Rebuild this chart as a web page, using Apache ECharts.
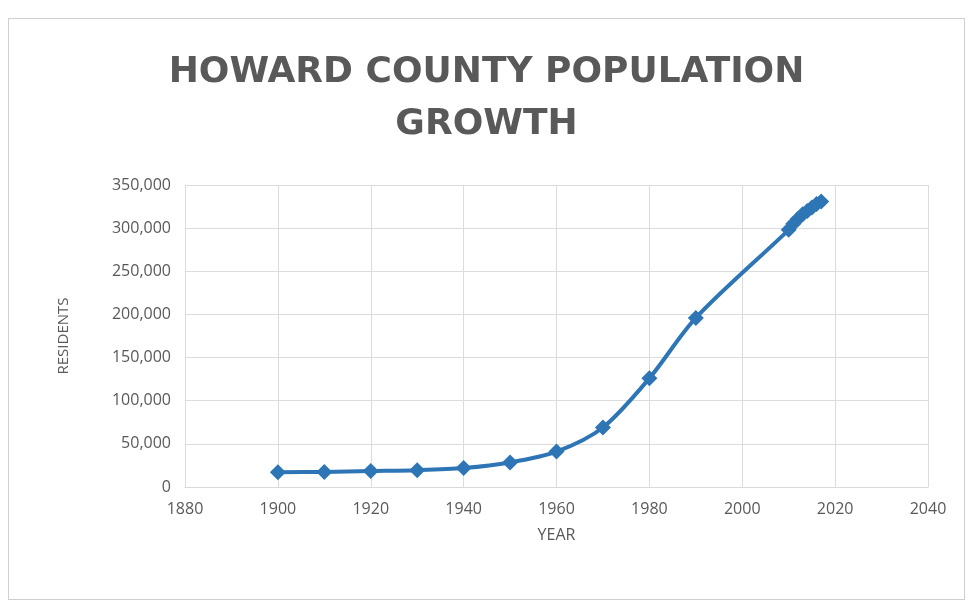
<!DOCTYPE html>
<html>
<head>
<meta charset="utf-8">
<script src="https://cdn.jsdelivr.net/npm/echarts@6/dist/echarts.min.js"></script>
<style>
  html, body { margin: 0; padding: 0; background: #fff; }
  #frame { position: absolute; left: 8px; top: 18px; width: 955px; height: 580px; border: 1px solid #d0d0d0; }
  #chart { width: 973px; height: 603px; }
</style>
</head>
<body>
<div id="frame"></div>
<div id="chart"></div>
<script>
// census years and residents
let years = [1900, 1910, 1920, 1930, 1940, 1950, 1960, 1970, 1980, 1990, 2010, 2011, 2012, 2013, 2014, 2015, 2016, 2017];
let residents = [17000, 17500, 18500, 19500, 22000, 28500, 41000, 69000, 126000, 196000, 298000, 305000, 311000, 316000, 320000, 324000, 328000, 331000];

let titleText = 'HOWARD COUNTY POPULATION\nGROWTH';
let xName = 'YEAR';
let yName = 'RESIDENTS';

let points = years.map((y, i) => [y, residents[i]]);

let myChart = echarts.init(document.getElementById('chart'));
let gray = '#595959';

let option = {
  animation: false,
  title: {
    text: titleText,
    left: 'center',
    top: 42,
    textStyle: {
      fontFamily: 'DejaVu Sans',
      fontWeight: 'bold',
      fontSize: 36,
      lineHeight: 52,
      color: gray
    }
  },
  grid: {
    left: 185,
    right: 45,
    top: 185,
    bottom: 116
  },
  xAxis: {
    type: 'value',
    min: 1880,
    max: 2040,
    interval: 20,
    name: xName,
    nameLocation: 'middle',
    nameGap: 40,
    nameTextStyle: { color: gray, fontSize: 16, fontFamily: 'Open Sans' },
    axisLabel: {
      color: gray,
      fontSize: 16,
      fontFamily: 'Open Sans',
      margin: 14,
      formatter: v => String(v)
    },
    axisLine: { show: true, lineStyle: { color: '#d9d9d9' } },
    axisTick: { show: false },
    splitLine: { show: true, lineStyle: { color: '#dcdcdc' } }
  },
  yAxis: {
    type: 'value',
    min: 0,
    max: 350000,
    interval: 50000,
    name: yName,
    nameLocation: 'middle',
    nameGap: 114,
    nameTextStyle: { color: gray, fontSize: 15, fontFamily: 'Open Sans' },
    axisLabel: {
      color: gray,
      fontSize: 16,
      fontFamily: 'Open Sans',
      margin: 14,
      formatter: v => v.toLocaleString('en-US')
    },
    axisLine: { show: false },
    axisTick: { show: false },
    splitLine: { show: true, lineStyle: { color: '#dcdcdc' } }
  },
  series: [{
    type: 'line',
    data: points,
    smooth: 0.3,
    symbol: 'diamond',
    symbolSize: 16,
    lineStyle: { color: '#2e75b6', width: 4 },
    itemStyle: { color: '#2e75b6' }
  }]
};

myChart.setOption(option);
</script>
</body>
</html>
